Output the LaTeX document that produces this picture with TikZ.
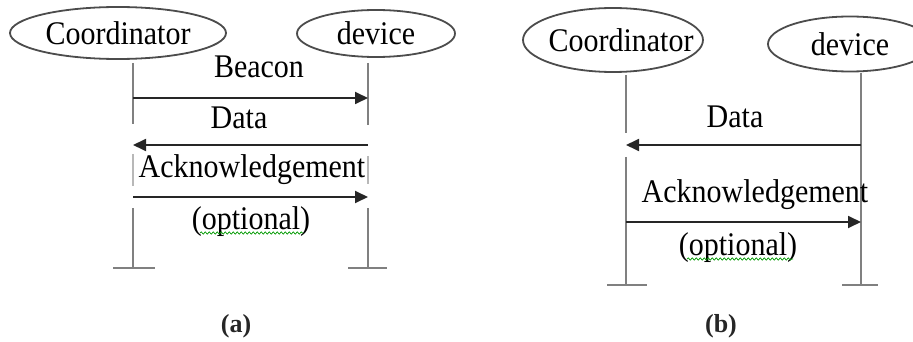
\documentclass[tikz,border=0pt]{standalone}
\usepackage{fontspec}
\setmainfont{Liberation Serif}
\usetikzlibrary{shapes.geometric,arrows.meta,decorations.pathmorphing}

% text set slightly taller than wide
\newcommand{\tall}[1]{\scalebox{1}[1.1]{#1}}

\tikzset{
  actor/.style={ellipse, draw=black!70, line width=1.8pt, inner sep=0pt,
                font=\fontsize{30}{34}\selectfont},
  lifeline/.style={draw=black!50, line width=2.8pt},
  faint/.style={draw=black!28, line width=2pt},
  msg/.style={draw=black!85, line width=1.8pt,
              -{Triangle[length=13pt,width=12pt]}},
  lbl/.style={font=\fontsize{30}{34}\selectfont, inner sep=0pt},
  subcaption/.style={font=\bfseries\fontsize{26}{30}\selectfont, text=black!85},
  squiggle/.style={draw=green!60!black, line width=0.7pt,
                   decorate, decoration={snake, amplitude=1.2pt, segment length=4pt}}
}

\begin{document}
\begin{tikzpicture}[x=1pt, y=-1pt]
\useasboundingbox (0,0) rectangle (913,342);
\begin{scope}
\clip (0,0) rectangle (913,342);

% ---------------- panel (a) ----------------
\node[actor, minimum width=216pt, minimum height=52pt] (aC) at (118,33) {\tall{Coordinator}};
\node[actor, minimum width=158pt, minimum height=47pt] (aD) at (376,33.5) {\tall{device}};

% lifelines
\coordinate (aCt) at (133,63);   \coordinate (aCb) at (133,268);
\coordinate (aDt) at (368,63);   \coordinate (aDb) at (368,268);
\draw[lifeline] (aCt) -- (133,124);
\draw[faint]    (133,154) -- (133,186);
\draw[lifeline] (133,208) -- (aCb);
\draw[lifeline] (aDt) -- (368,125);
\draw[faint]    (368,156) -- (368,184);
\draw[lifeline] (368,208) -- (aDb);
\draw[lifeline] (113,268) -- (155,268);
\draw[lifeline] (348,268) -- (387,268);

% messages
\coordinate (aBs) at (133,98);   \coordinate (aBe) at (368,98);
\coordinate (aDs) at (368,145);  \coordinate (aDe) at (133,145);
\coordinate (aAs) at (133,197);  \coordinate (aAe) at (368,197);
\draw[msg] (aBs) -- (aBe);
\draw[msg] (aDs) -- (aDe);
\draw[msg] (aAs) -- (aAe);

\node[lbl] (aLb) at (259,67)  {\tall{Beacon}};
\node[lbl] (aLd) at (239,118) {\tall{Data}};
\node[lbl] (aLa) at (252,170) {\tall{Acknowledgement}};
\node[lbl] (aLo) at (251,222) {\tall{(optional)}};
\draw[squiggle] (200,233) -- (303,233);

\node[subcaption] (capA) at (236,326) {(a)};

% ---------------- panel (b) ----------------
% the name runs almost to the right edge of this ellipse
\node[actor, minimum width=180pt, minimum height=64pt] (bC) at (613,40)
  {\hspace{16pt}\makebox[0pt]{\tall{Coordinator}}};
\node[actor, minimum width=164pt, minimum height=55pt] (bD) at (850,44) {\tall{device}};

\coordinate (bCt) at (626,75);   \coordinate (bCb) at (626,285);
\coordinate (bDt) at (861,73);   \coordinate (bDb) at (861,285);
\draw[lifeline] (bCt) -- (626,133);
\draw[lifeline] (626,157) -- (bCb);
\draw[lifeline] (bDt) -- (bDb);
\draw[lifeline] (607,285) -- (647,285);
\draw[lifeline] (842,285) -- (878,285);

\coordinate (bDs) at (861,145);  \coordinate (bDe) at (626,145);
\coordinate (bAs) at (626,222);  \coordinate (bAe) at (861,222);
\draw[msg] (bDs) -- (bDe);
\draw[msg] (bAs) -- (bAe);

\node[lbl] (bLd) at (735,117) {\tall{Data}};
\node[lbl] (bLa) at (755,195) {\tall{Acknowledgement}};
\node[lbl] (bLo) at (738,248) {\tall{(optional)}};
\draw[squiggle] (687,259) -- (793,259);

\node[subcaption] (capB) at (721,326) {(b)};
\end{scope}
\end{tikzpicture}
\end{document}
